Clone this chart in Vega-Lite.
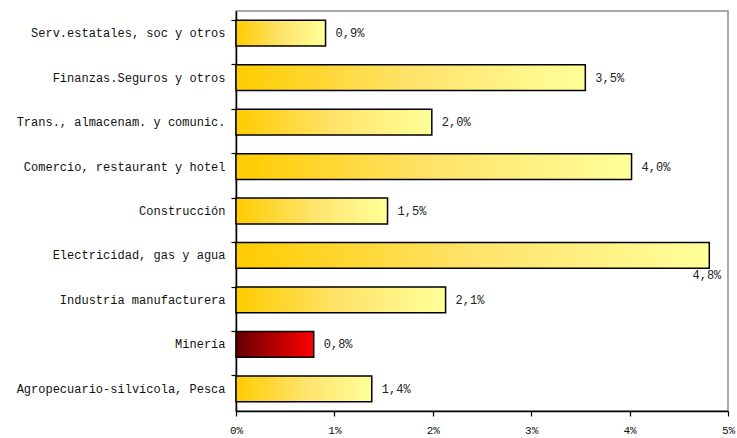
{
  "$schema": "https://vega.github.io/schema/vega-lite/v6.json",
  "autosize": {"type": "none"},
  "padding": {"left": 236, "top": 11, "right": 9, "bottom": 27},
  "width": 492,
  "height": 400,
  "background": "white",
  "config": {
    "view": {"stroke": "#8c8c8c", "strokeWidth": 1.5},
    "axis": {"grid": false, "domainColor": "#000", "tickColor": "#000", "labelColor": "#111", "labelFont": "Liberation Mono", "domainWidth": 1.5, "tickWidth": 1.2}
  },
  "data": {
    "values": [
      {"sector": "Serv.estatales, soc y otros", "valor": 0.91, "etiqueta": "0,9%"},
      {"sector": "Finanzas.Seguros y otros", "valor": 3.55, "etiqueta": "3,5%"},
      {"sector": "Trans., almacenam. y comunic.", "valor": 1.99, "etiqueta": "2,0%"},
      {"sector": "Comercio, restaurant y hotel", "valor": 4.02, "etiqueta": "4,0%"},
      {"sector": "Construcción", "valor": 1.54, "etiqueta": "1,5%"},
      {"sector": "Electricidad, gas y agua", "valor": 4.81, "etiqueta": "4,8%"},
      {"sector": "Industria manufacturera", "valor": 2.13, "etiqueta": "2,1%"},
      {"sector": "Minería", "valor": 0.79, "etiqueta": "0,8%"},
      {"sector": "Agropecuario-silvícola, Pesca", "valor": 1.38, "etiqueta": "1,4%"}
    ]
  },
  "encoding": {
    "y": {
      "field": "sector", "type": "nominal", "sort": null,
      "scale": {"paddingInner": 0.42, "paddingOuter": 0.21},
      "axis": {"title": null, "bandPosition": 0, "tickSize": 5, "labelPadding": 6, "labelFontSize": 12, "labelLimit": 300}
    },
    "x": {
      "field": "valor", "type": "quantitative",
      "scale": {"domain": [0, 5], "nice": false},
      "axis": {"title": null, "values": [0, 1, 2, 3, 4, 5], "tickSize": 5, "labelPadding": 8, "labelFontSize": 11, "labelExpr": "datum.value + '%'", "labelFlush": false}
    }
  },
  "layer": [
    {
      "mark": {"type": "bar", "stroke": "#000", "strokeWidth": 1.5},
      "encoding": {
        "fill": {
          "condition": {
            "test": "datum.sector === 'Minería'",
            "value": {"gradient": "linear", "x1": 0, "x2": 1, "y1": 0, "y2": 0, "stops": [{"offset": 0, "color": "#660000"}, {"offset": 1, "color": "#ff0000"}]}
          },
          "value": {"gradient": "linear", "x1": 0, "x2": 1, "y1": 0, "y2": 0, "stops": [{"offset": 0, "color": "#ffcc00"}, {"offset": 0.5, "color": "#ffe36a"}, {"offset": 1, "color": "#ffff99"}]}
        }
      }
    },
    {
      "transform": [{"filter": "datum.sector !== 'Electricidad, gas y agua'"}],
      "mark": {"type": "text", "align": "left", "baseline": "middle", "dx": 10, "font": "Liberation Mono", "fontSize": 12, "color": "#222"},
      "encoding": {"text": {"field": "etiqueta"}}
    },
    {
      "transform": [{"filter": "datum.sector === 'Electricidad, gas y agua'"}],
      "mark": {"type": "text", "align": "right", "baseline": "top", "dx": 12, "dy": 15, "font": "Liberation Mono", "fontSize": 12, "color": "#222"},
      "encoding": {"text": {"field": "etiqueta"}}
    }
  ]
}
